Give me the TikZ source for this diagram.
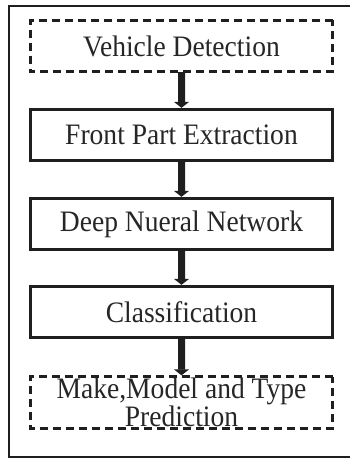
\documentclass[tikz,border=0pt]{standalone}
\usepackage{fontspec}
\setmainfont{Liberation Serif}
\usetikzlibrary{arrows.meta}
\begin{document}
\begin{tikzpicture}[x=1pt,y=-1pt,
  stepbox/.style={draw=black!88, text=black!85, line width=3pt, transform shape, xscale=1.02, yscale=1.1,
    minimum width=297pt, minimum height=46.4pt, inner sep=0pt, align=center, font=\fontsize{27}{22.5}\selectfont},
  dashbox/.style={stepbox, dash pattern=on 8pt off 5pt},
  flow/.style={draw=black!88, line width=7pt, -{Triangle[width=15pt,length=6pt]}, shorten <=-1pt}]
\useasboundingbox (0,0) rectangle (349,459);
\draw[black!88, line width=2.5pt] (360,6) -- (9,6) -- (9,457) -- (360,457);
\node[dashbox] (a) at (181.5,46) {Vehicle Detection};
\node[stepbox] (b) at (181.5,135) {Front Part Extraction};
\node[stepbox] (c) at (181.5,224) {Deep Nueral Network};
\node[stepbox] (d) at (181.5,312) {Classification};
\node[dashbox] (e) at (181.5,402.5) {Make,Model and Type\\Prediction};
\draw[flow] (a) -- (b);
\draw[flow] (b) -- (c);
\draw[flow] (c) -- (d);
\draw[flow] (d) -- (e);
\end{tikzpicture}
\end{document}
